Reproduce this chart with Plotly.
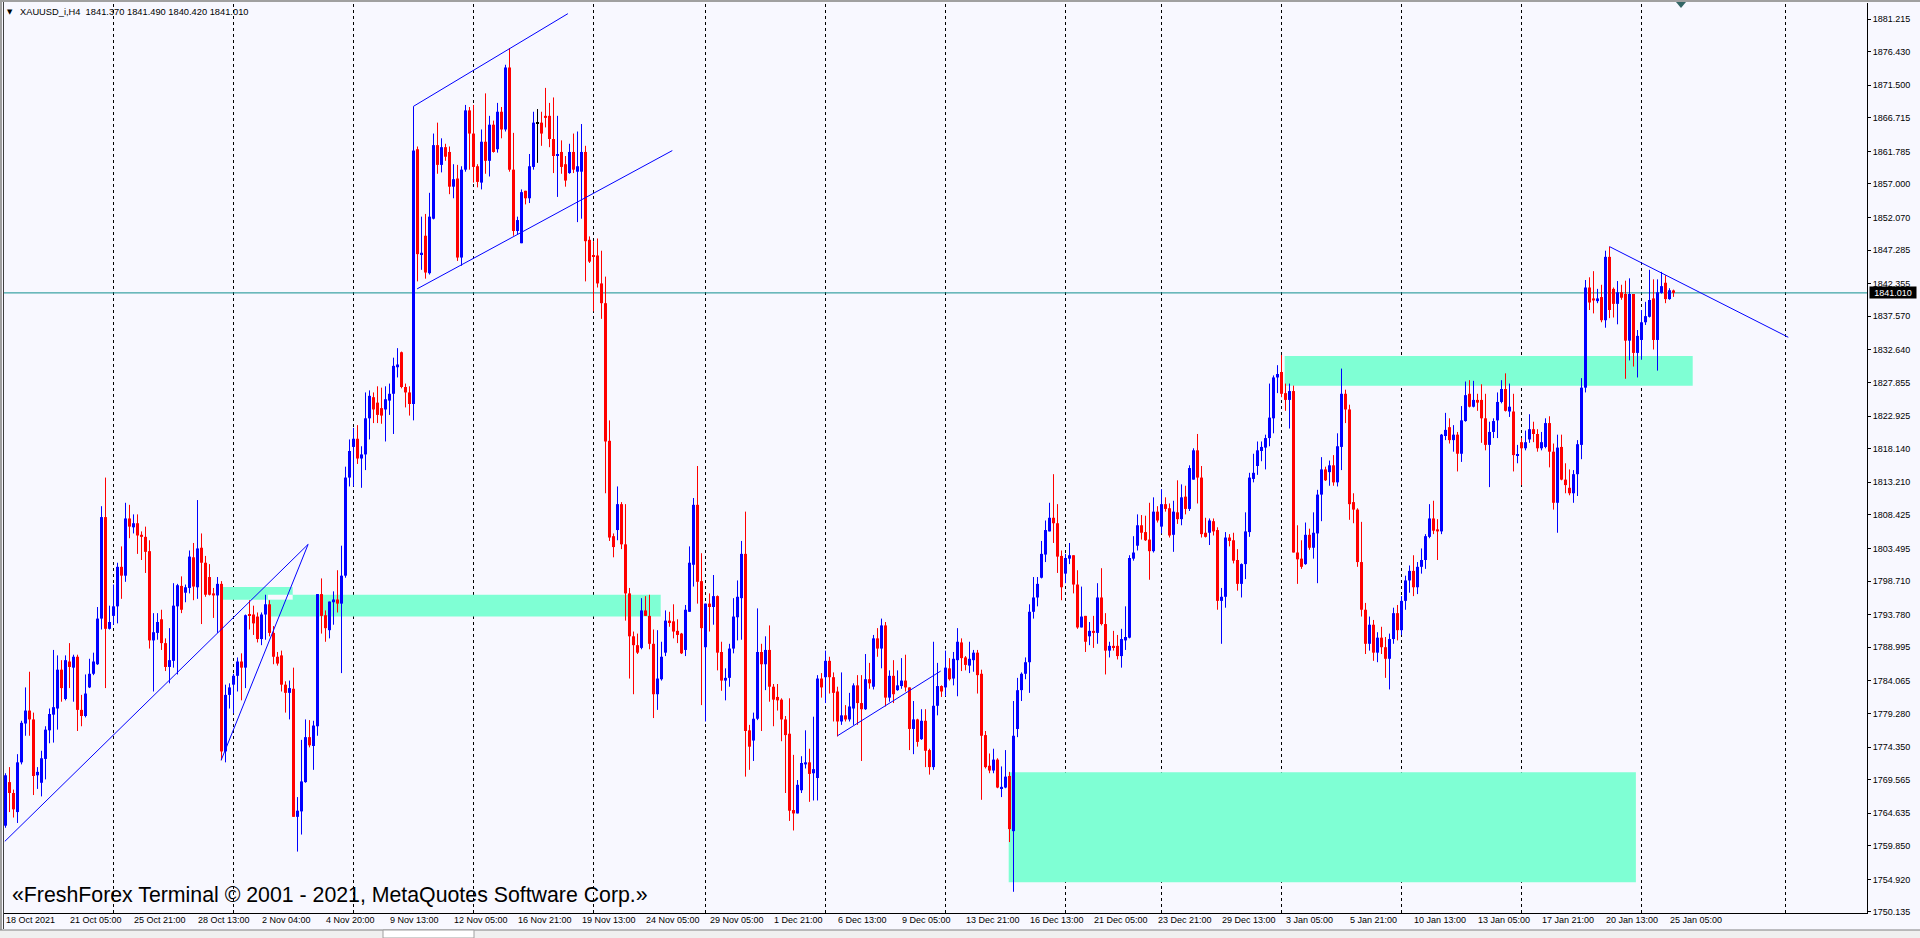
import plotly.graph_objects as go

# ---------------- data (H4 candles, XAUUSD) ----------------
opens = [
    1762.8, 1769.2, 1767.6, 1764.8, 1772.1, 1777.8, 1779.7, 1778.4, 1770.2, 1769.1,
    1772.6, 1776.8, 1779.1, 1780.0, 1785.7, 1781.4, 1786.9, 1786.0, 1787.6, 1779.8,
    1778.9, 1783.1, 1785.1, 1786.5, 1793.2, 1808.1, 1791.7, 1793.6, 1795.0, 1800.8,
    1799.5, 1807.9, 1806.6, 1807.2, 1805.5, 1805.2, 1803.1, 1790.0, 1791.1, 1793.1,
    1789.6, 1786.1, 1787.0, 1795.0, 1798.0, 1797.0, 1797.7, 1802.2, 1797.8, 1803.6,
    1801.4, 1799.3, 1796.9, 1796.6, 1798.3, 1773.7, 1782.0, 1783.5, 1784.8, 1786.9,
    1786.0, 1793.8, 1793.8, 1793.5, 1790.2, 1793.8, 1795.3, 1791.1, 1787.6, 1787.8,
    1783.5, 1782.3, 1782.9, 1764.1, 1764.9, 1769.2, 1775.8, 1774.5, 1777.4, 1796.8,
    1793.7, 1791.5, 1795.6, 1796.0, 1795.4, 1799.5, 1813.9, 1818.4, 1819.6, 1816.7,
    1817.3, 1822.6, 1825.7, 1824.9, 1824.1, 1823.9, 1825.2, 1826.2, 1830.1, 1832.3,
    1827.2, 1826.4, 1824.7, 1862.1, 1846.7, 1849.4, 1843.9, 1851.9, 1862.7, 1859.8,
    1862.4, 1861.7, 1856.6, 1857.8, 1846.2, 1859.1, 1867.8, 1864.4, 1859.6, 1857.2,
    1863.2, 1860.4, 1865.7, 1862.1, 1867.6, 1865.0, 1874.1, 1859.1, 1850.1, 1848.3,
    1856.0, 1854.9, 1859.5, 1865.9, 1866.0, 1867.0, 1867.0, 1863.6, 1861.1, 1861.7,
    1859.9, 1858.6, 1861.7, 1858.8, 1858.8, 1861.7, 1848.8, 1846.5, 1846.5, 1842.4,
    1839.5, 1819.3, 1805.3, 1806.2, 1810.0, 1804.1, 1796.9, 1790.6, 1789.3, 1788.9,
    1794.4, 1793.6, 1789.5, 1782.1, 1784.3, 1788.2, 1792.9, 1792.8, 1791.4, 1791.0,
    1788.6, 1794.2, 1801.1, 1809.9, 1798.7, 1789.0, 1795.4, 1794.9, 1796.5, 1788.3,
    1784.1, 1784.5, 1788.8, 1793.4, 1796.2, 1802.7, 1776.8, 1775.3, 1778.5, 1788.3,
    1786.5, 1788.6, 1783.2, 1781.7, 1781.3, 1778.4, 1776.3, 1765.1, 1764.6, 1768.0,
    1771.8, 1772.1, 1770.5, 1769.8, 1784.4, 1784.6, 1787.0, 1784.6, 1782.5, 1778.1,
    1779.0, 1778.4, 1780.0, 1783.4, 1780.8, 1779.9, 1784.3, 1783.2, 1790.3, 1788.8,
    1792.2, 1781.6, 1784.8, 1782.7, 1783.3, 1784.1, 1783.1, 1777.0, 1778.4, 1775.5,
    1778.2, 1773.9, 1771.4, 1780.4, 1783.3, 1783.1, 1785.9, 1784.4, 1787.1, 1789.7,
    1787.5, 1786.3, 1787.1, 1788.2, 1785.1, 1776.1, 1771.6, 1770.9, 1772.5, 1768.3,
    1768.4, 1770.1, 1762.0, 1777.0, 1782.7, 1785.1, 1786.8, 1794.2, 1796.3, 1799.2,
    1802.6, 1806.0, 1808.0, 1807.2, 1802.4, 1799.8, 1802.0, 1802.5, 1798.2, 1791.9,
    1793.6, 1790.6, 1791.4, 1791.1, 1796.3, 1792.4, 1788.5, 1789.2, 1789.2, 1787.7,
    1790.0, 1790.4, 1802.0, 1803.9, 1806.9, 1805.9, 1804.8, 1803.1, 1808.9, 1806.7,
    1810.0, 1809.4, 1805.5, 1808.8, 1807.8, 1811.1, 1809.3, 1813.6, 1817.9, 1813.9,
    1805.8, 1805.8, 1807.5, 1806.2, 1795.8, 1796.4, 1805.1, 1804.7, 1801.8, 1798.3,
    1801.2, 1805.9, 1813.7, 1815.6, 1817.8, 1818.3, 1819.7, 1822.6, 1828.6, 1829.4,
    1826.3, 1825.3, 1826.6, 1802.9, 1802.0, 1801.2, 1805.5, 1803.6, 1805.7, 1811.4,
    1815.1, 1814.7, 1815.7, 1813.2, 1818.4, 1826.2, 1823.9, 1810.3, 1809.2, 1801.5,
    1794.5, 1789.5, 1792.3, 1788.2, 1790.4, 1789.0, 1787.3, 1790.2, 1794.0, 1791.5,
    1795.8, 1798.8, 1800.2, 1797.8, 1800.8, 1801.8, 1805.2, 1807.9, 1806.3, 1806.0,
    1820.0, 1821.3, 1819.4, 1820.2, 1817.4, 1822.2, 1826.2, 1824.3, 1825.3, 1825.3,
    1822.6, 1818.7, 1820.6, 1822.3, 1825.0, 1826.9, 1823.6, 1823.6, 1817.2, 1819.1,
    1818.2, 1819.5, 1821.0, 1820.3, 1818.2, 1818.4, 1821.9, 1817.7, 1810.2, 1818.4,
    1813.6, 1812.4, 1811.6, 1814.4, 1818.7, 1827.1, 1841.8, 1840.2, 1839.8, 1840.4,
    1837.0, 1846.3, 1841.6, 1839.4, 1841.1, 1840.85, 1834.0, 1840.85, 1832.2, 1834.1,
    1836.7, 1837.5, 1840.2, 1834.1, 1841.0, 1842.5, 1840.1, 1841.37,
]
highs = [
    1770.5, 1771.4, 1768.1, 1773.3, 1778.2, 1783.1, 1785.4, 1779.4, 1771.4, 1773.8,
    1777.4, 1780.0, 1788.6, 1787.8, 1787.1, 1787.8, 1789.6, 1787.9, 1787.9, 1782.0,
    1785.0, 1787.3, 1788.2, 1794.9, 1809.7, 1813.9, 1795.1, 1798.2, 1801.4, 1803.8,
    1810.2, 1809.9, 1808.5, 1808.5, 1806.0, 1806.7, 1804.7, 1794.0, 1794.0, 1794.5,
    1790.3, 1791.8, 1798.4, 1798.3, 1799.4, 1798.2, 1803.2, 1804.3, 1810.6, 1805.7,
    1802.4, 1801.2, 1797.7, 1799.3, 1798.7, 1783.5, 1783.7, 1785.1, 1787.5, 1788.1,
    1793.8, 1795.9, 1795.1, 1794.1, 1794.1, 1796.7, 1795.9, 1792.1, 1788.3, 1788.5,
    1784.0, 1784.1, 1786.0, 1767.0, 1775.4, 1778.4, 1778.3, 1778.2, 1796.8, 1799.1,
    1794.4, 1795.7, 1797.2, 1800.3, 1803.9, 1815.5, 1819.5, 1821.2, 1821.6, 1818.5,
    1826.4, 1826.7, 1826.4, 1827.3, 1827.1, 1827.3, 1827.7, 1831.5, 1832.9, 1832.4,
    1827.7, 1827.3, 1868.4, 1862.5, 1852.2, 1852.6, 1855.7, 1864.4, 1866.0, 1863.7,
    1862.9, 1862.5, 1859.9, 1859.8, 1859.6, 1868.6, 1868.3, 1868.6, 1859.9, 1865.0,
    1870.3, 1867.0, 1866.3, 1868.9, 1868.3, 1874.5, 1876.95, 1864.5, 1852.2, 1856.2,
    1856.0, 1861.4, 1867.6, 1868.0, 1867.6, 1871.1, 1868.9, 1869.7, 1867.0, 1863.4,
    1861.1, 1862.9, 1864.4, 1864.7, 1865.8, 1862.6, 1849.3, 1848.6, 1849.0, 1847.2,
    1843.4, 1822.3, 1805.7, 1812.6, 1810.3, 1810.0, 1797.7, 1791.3, 1791.0, 1796.2,
    1796.5, 1796.7, 1791.6, 1791.5, 1789.8, 1794.4, 1794.2, 1795.3, 1793.1, 1791.1,
    1795.2, 1803.8, 1810.9, 1815.6, 1802.8, 1795.4, 1796.9, 1799.6, 1796.6, 1789.8,
    1785.9, 1789.5, 1796.2, 1798.8, 1804.6, 1808.9, 1777.6, 1779.4, 1794.7, 1789.5,
    1790.6, 1792.2, 1783.6, 1783.6, 1781.5, 1778.9, 1781.5, 1773.2, 1769.5, 1773.0,
    1776.8, 1774.1, 1778.8, 1784.9, 1785.2, 1788.5, 1787.6, 1785.3, 1783.2, 1785.3,
    1780.5, 1782.3, 1783.7, 1784.9, 1784.9, 1788.0, 1786.7, 1790.8, 1791.8, 1793.2,
    1792.7, 1785.6, 1787.1, 1785.6, 1787.4, 1787.9, 1783.1, 1781.1, 1778.5, 1779.9,
    1779.9, 1774.1, 1789.8, 1786.7, 1783.4, 1788.5, 1787.4, 1788.3, 1791.8, 1790.3,
    1787.7, 1789.8, 1788.6, 1788.6, 1785.7, 1776.7, 1773.4, 1774.1, 1772.7, 1771.5,
    1773.9, 1770.7, 1781.1, 1784.5, 1785.3, 1787.5, 1795.3, 1799.3, 1799.3, 1804.6,
    1807.6, 1810.2, 1814.4, 1810.0, 1803.2, 1802.7, 1804.3, 1802.5, 1800.3, 1797.9,
    1793.6, 1792.7, 1793.6, 1798.4, 1800.6, 1794.0, 1789.8, 1791.4, 1790.8, 1791.7,
    1795.0, 1802.5, 1805.3, 1808.5, 1808.4, 1808.3, 1810.2, 1811.0, 1809.7, 1812.2,
    1811.0, 1810.1, 1810.5, 1813.5, 1812.9, 1812.7, 1815.7, 1818.2, 1820.3, 1815.6,
    1808.0, 1807.9, 1807.9, 1806.6, 1797.7, 1805.9, 1805.6, 1805.8, 1803.4, 1801.3,
    1808.8, 1814.6, 1817.4, 1819.2, 1819.2, 1820.2, 1827.7, 1828.9, 1830.4, 1831.9,
    1827.7, 1827.7, 1827.4, 1806.9, 1804.7, 1807.3, 1806.4, 1808.8, 1812.1, 1816.9,
    1815.5, 1816.4, 1817.2, 1820.4, 1829.9, 1826.8, 1824.6, 1811.6, 1809.4, 1807.4,
    1795.5, 1793.5, 1793.0, 1791.2, 1792.0, 1790.5, 1791.0, 1794.8, 1795.2, 1796.5,
    1799.5, 1801.0, 1802.5, 1801.5, 1803.5, 1805.6, 1810.0, 1810.5, 1807.8, 1820.3,
    1823.4, 1822.6, 1821.6, 1820.6, 1824.4, 1828.0, 1828.2, 1828.1, 1826.2, 1827.6,
    1826.2, 1822.1, 1822.6, 1826.4, 1828.2, 1829.2, 1827.7, 1826.2, 1818.7, 1819.7,
    1820.8, 1823.2, 1822.1, 1821.0, 1820.6, 1822.6, 1822.9, 1818.9, 1820.2, 1820.2,
    1816.0, 1815.1, 1815.0, 1819.4, 1828.5, 1842.9, 1843.3, 1844.2, 1841.6, 1842.2,
    1847.2, 1847.8, 1841.8, 1842.75, 1842.2, 1842.8, 1843.15, 1840.85, 1835.56, 1838.5,
    1839.7, 1844.4, 1843.0, 1843.0, 1844.1, 1843.6, 1841.7, 1841.49,
]
lows = [
    1762.5, 1764.8, 1764.0, 1763.2, 1771.8, 1776.0, 1776.0, 1767.3, 1768.2, 1767.1,
    1769.6, 1774.9, 1775.0, 1776.9, 1781.0, 1781.2, 1783.0, 1781.0, 1776.7, 1777.4,
    1778.7, 1783.0, 1784.9, 1786.4, 1791.6, 1783.0, 1791.6, 1792.3, 1792.5, 1796.1,
    1798.6, 1805.0, 1805.7, 1802.7, 1801.8, 1799.9, 1788.8, 1782.5, 1790.1, 1788.6,
    1785.5, 1783.7, 1786.0, 1785.0, 1794.0, 1795.6, 1796.9, 1795.9, 1796.1, 1792.4,
    1796.4, 1796.6, 1793.3, 1791.1, 1772.4, 1772.1, 1780.0, 1779.3, 1782.5, 1781.2,
    1783.0, 1791.6, 1790.8, 1789.7, 1789.3, 1790.1, 1790.6, 1786.5, 1786.3, 1782.5,
    1779.4, 1778.4, 1764.1, 1759.0, 1761.5, 1769.1, 1774.3, 1771.0, 1776.0, 1791.0,
    1789.8, 1790.3, 1792.3, 1794.1, 1785.2, 1799.2, 1812.6, 1812.6, 1815.9, 1812.4,
    1815.0, 1819.5, 1821.9, 1821.9, 1821.8, 1819.2, 1823.1, 1820.3, 1828.6, 1827.0,
    1824.2, 1823.0, 1822.3, 1842.7, 1844.4, 1843.1, 1843.7, 1851.8, 1858.5, 1858.7,
    1860.4, 1855.5, 1854.9, 1845.7, 1845.0, 1858.8, 1859.1, 1857.2, 1856.5, 1856.2,
    1858.5, 1858.1, 1861.6, 1861.6, 1863.7, 1864.7, 1858.8, 1849.4, 1849.6, 1848.3,
    1854.0, 1854.2, 1859.1, 1860.1, 1862.6, 1865.3, 1862.4, 1858.6, 1855.1, 1858.5,
    1856.6, 1858.5, 1858.6, 1851.4, 1851.9, 1842.7, 1845.4, 1838.3, 1841.8, 1837.2,
    1811.6, 1804.6, 1802.2, 1804.7, 1803.4, 1792.9, 1784.4, 1782.1, 1788.0, 1788.7,
    1793.6, 1788.7, 1778.6, 1779.8, 1784.1, 1787.7, 1792.0, 1790.3, 1789.6, 1788.0,
    1787.7, 1794.2, 1797.9, 1795.4, 1780.5, 1778.1, 1791.3, 1792.3, 1785.6, 1782.6,
    1781.2, 1783.2, 1788.1, 1790.0, 1790.1, 1770.0, 1771.0, 1772.3, 1778.3, 1776.7,
    1782.7, 1781.0, 1777.4, 1779.7, 1775.2, 1767.6, 1763.5, 1762.1, 1764.6, 1767.6,
    1771.2, 1766.3, 1766.5, 1766.5, 1781.6, 1780.8, 1782.2, 1778.1, 1775.9, 1777.6,
    1778.1, 1778.1, 1777.6, 1777.6, 1772.3, 1779.8, 1782.9, 1782.8, 1787.6, 1785.9,
    1780.3, 1781.0, 1780.8, 1782.6, 1782.9, 1782.5, 1773.9, 1773.3, 1774.4, 1775.4,
    1771.4, 1770.3, 1771.0, 1779.0, 1781.7, 1781.8, 1784.1, 1783.4, 1781.8, 1785.5,
    1785.6, 1785.2, 1785.4, 1782.2, 1766.6, 1771.2, 1770.5, 1770.5, 1768.3, 1767.0,
    1768.3, 1760.4, 1753.1, 1775.8, 1781.1, 1784.3, 1782.3, 1793.2, 1795.0, 1799.1,
    1801.5, 1806.0, 1804.3, 1799.9, 1795.9, 1798.4, 1801.2, 1796.9, 1791.7, 1791.9,
    1788.3, 1789.3, 1788.9, 1789.5, 1792.2, 1785.0, 1787.5, 1788.5, 1787.2, 1786.0,
    1788.6, 1790.3, 1801.7, 1803.2, 1804.8, 1804.6, 1798.9, 1802.9, 1807.3, 1805.7,
    1808.9, 1805.1, 1803.0, 1807.1, 1806.9, 1808.5, 1809.0, 1813.6, 1810.1, 1805.1,
    1805.1, 1804.0, 1805.4, 1794.5, 1789.5, 1794.8, 1803.8, 1801.3, 1797.3, 1796.3,
    1799.0, 1805.2, 1813.2, 1814.3, 1816.3, 1815.1, 1818.5, 1820.4, 1826.3, 1825.7,
    1823.7, 1821.1, 1802.9, 1798.3, 1800.5, 1801.1, 1803.3, 1802.0, 1798.4, 1807.5,
    1813.4, 1812.7, 1812.7, 1812.6, 1815.0, 1821.9, 1807.7, 1807.2, 1800.8, 1793.5,
    1788.0, 1788.5, 1787.0, 1786.8, 1788.0, 1784.5, 1782.8, 1789.5, 1790.0, 1790.8,
    1794.5, 1797.0, 1796.5, 1796.8, 1799.8, 1800.5, 1805.0, 1805.6, 1801.8, 1805.6,
    1819.4, 1818.9, 1817.7, 1814.8, 1816.2, 1822.1, 1824.2, 1824.2, 1823.7, 1819.0,
    1817.9, 1812.5, 1819.7, 1819.7, 1824.8, 1823.6, 1822.8, 1814.8, 1816.0, 1812.8,
    1817.9, 1819.0, 1819.1, 1817.7, 1817.9, 1818.2, 1815.4, 1809.2, 1805.8, 1813.5,
    1811.6, 1811.3, 1810.2, 1811.2, 1816.6, 1826.4, 1838.5, 1838.0, 1839.5, 1836.7,
    1835.9, 1837.3, 1837.4, 1836.4, 1840.0, 1828.4, 1831.1, 1830.2, 1828.6, 1831.2,
    1836.3, 1837.4, 1832.7, 1829.6, 1840.9, 1839.5, 1840.0, 1840.42,
]
closes = [
    1770.2, 1767.6, 1765.2, 1772.1, 1777.9, 1779.7, 1778.4, 1770.1, 1770.7, 1772.7,
    1776.9, 1779.2, 1780.2, 1785.7, 1783.0, 1787.1, 1786.1, 1787.6, 1779.8, 1778.9,
    1782.2, 1785.1, 1786.9, 1793.2, 1808.1, 1791.7, 1792.7, 1795.0, 1800.8, 1799.5,
    1807.9, 1806.7, 1807.2, 1805.4, 1805.2, 1803.0, 1790.0, 1791.2, 1792.7, 1789.6,
    1786.1, 1787.1, 1795.1, 1798.1, 1794.5, 1797.8, 1802.3, 1797.9, 1803.5, 1801.4,
    1796.7, 1796.7, 1796.6, 1798.3, 1773.7, 1782.0, 1783.1, 1784.8, 1786.9, 1786.0,
    1793.7, 1793.6, 1792.5, 1790.2, 1793.8, 1795.3, 1791.1, 1787.6, 1786.6, 1783.5,
    1782.3, 1783.0, 1764.1, 1765.0, 1769.3, 1775.8, 1774.6, 1777.5, 1796.8, 1793.6,
    1791.8, 1795.7, 1796.0, 1795.4, 1799.5, 1813.9, 1817.8, 1819.6, 1816.7, 1817.3,
    1822.6, 1825.9, 1823.9, 1823.1, 1823.0, 1825.4, 1826.2, 1830.3, 1830.5, 1827.2,
    1826.4, 1824.7, 1861.9, 1846.7, 1846.9, 1844.0, 1852.2, 1862.7, 1859.8, 1862.4,
    1861.0, 1856.6, 1857.7, 1846.2, 1859.1, 1867.8, 1864.4, 1859.5, 1857.3, 1863.2,
    1860.4, 1865.7, 1861.7, 1867.6, 1865.0, 1874.1, 1859.1, 1850.1, 1851.7, 1855.8,
    1854.9, 1859.6, 1866.0, 1865.9, 1864.4, 1866.7, 1863.6, 1861.1, 1861.4, 1859.5,
    1857.5, 1861.7, 1859.1, 1859.6, 1861.7, 1848.6, 1845.6, 1846.3, 1842.4, 1839.5,
    1819.2, 1805.1, 1803.7, 1810.0, 1804.1, 1796.9, 1790.6, 1789.3, 1788.2, 1794.4,
    1793.6, 1789.5, 1782.1, 1784.4, 1787.6, 1792.9, 1792.7, 1791.3, 1790.8, 1788.1,
    1794.5, 1801.4, 1809.9, 1798.6, 1791.8, 1795.4, 1794.9, 1796.5, 1788.2, 1784.1,
    1784.5, 1788.8, 1793.5, 1796.4, 1802.7, 1776.7, 1774.4, 1778.5, 1788.3, 1786.5,
    1788.6, 1783.2, 1781.3, 1781.2, 1778.4, 1776.1, 1765.0, 1764.6, 1768.8, 1772.0,
    1772.1, 1770.4, 1771.1, 1784.4, 1783.1, 1787.0, 1784.6, 1782.3, 1778.1, 1779.0,
    1778.4, 1780.3, 1783.4, 1780.8, 1779.9, 1784.3, 1783.7, 1790.3, 1788.8, 1792.2,
    1781.6, 1784.8, 1782.1, 1783.4, 1784.1, 1783.1, 1777.0, 1778.4, 1775.1, 1778.2,
    1773.8, 1771.4, 1780.4, 1783.3, 1782.5, 1786.0, 1784.3, 1787.3, 1789.8, 1787.4,
    1786.4, 1787.3, 1788.2, 1784.9, 1776.0, 1771.4, 1770.9, 1772.5, 1768.4, 1768.5,
    1770.0, 1762.3, 1776.0, 1782.7, 1785.1, 1786.8, 1794.2, 1796.3, 1798.3, 1802.7,
    1806.2, 1808.0, 1807.2, 1802.3, 1797.8, 1802.1, 1802.5, 1798.2, 1791.9, 1793.5,
    1789.8, 1791.4, 1791.1, 1796.3, 1792.4, 1788.5, 1789.2, 1789.0, 1787.7, 1790.2,
    1790.5, 1802.1, 1802.9, 1806.9, 1805.8, 1804.7, 1803.1, 1808.9, 1807.6, 1810.0,
    1809.3, 1805.4, 1808.9, 1807.8, 1811.0, 1809.3, 1815.3, 1817.9, 1813.9, 1805.6,
    1805.2, 1807.6, 1806.0, 1795.8, 1796.4, 1805.1, 1804.6, 1801.7, 1798.3, 1801.2,
    1806.0, 1813.9, 1814.6, 1817.9, 1818.4, 1819.7, 1822.7, 1828.6, 1829.1, 1826.2,
    1825.3, 1826.6, 1802.9, 1801.9, 1800.8, 1805.5, 1803.6, 1805.8, 1811.4, 1815.1,
    1813.5, 1815.7, 1813.2, 1818.5, 1826.2, 1823.9, 1810.0, 1809.2, 1801.5, 1794.5,
    1789.5, 1792.3, 1788.2, 1790.4, 1789.0, 1787.3, 1790.2, 1794.0, 1791.5, 1795.8,
    1798.8, 1800.2, 1797.8, 1800.8, 1801.8, 1805.3, 1807.9, 1806.1, 1806.0, 1820.2,
    1820.9, 1819.4, 1820.2, 1817.4, 1822.3, 1826.0, 1824.3, 1825.3, 1824.9, 1822.6,
    1818.7, 1820.6, 1822.2, 1825.0, 1826.9, 1823.7, 1824.3, 1817.2, 1817.35, 1818.2,
    1819.1, 1821.0, 1820.3, 1818.2, 1819.1, 1821.9, 1817.7, 1810.2, 1818.3, 1813.6,
    1812.8, 1811.6, 1814.4, 1818.8, 1827.1, 1841.8, 1839.6, 1839.9, 1840.2, 1837.0,
    1846.3, 1838.5, 1839.4, 1841.1, 1840.3, 1834.0, 1840.85, 1832.2, 1834.7, 1836.7,
    1837.6, 1839.97, 1834.1, 1841.1, 1842.0, 1840.1, 1841.4, 1841.01,
]
assert len(opens) == len(highs) == len(lows) == len(closes), (len(opens), len(highs), len(lows), len(closes))

# time-axis labels (every 16 bars)
x_label_bars = [0, 16, 32, 48, 64, 80, 96, 112, 128, 144, 160, 176, 192, 208,
                224, 240, 256, 272, 288, 304, 320, 336, 352, 368, 384, 400, 416]
x_labels = ["18 Oct 2021", "21 Oct 05:00", "25 Oct 21:00", "28 Oct 13:00", "2 Nov 04:00",
            "4 Nov 20:00", "9 Nov 13:00", "12 Nov 05:00", "16 Nov 21:00", "19 Nov 13:00",
            "24 Nov 05:00", "29 Nov 05:00", "1 Dec 21:00", "6 Dec 13:00", "9 Dec 05:00",
            "13 Dec 21:00", "16 Dec 13:00", "21 Dec 05:00", "23 Dec 21:00", "29 Dec 13:00",
            "3 Jan 05:00", "5 Jan 21:00", "10 Jan 13:00", "13 Jan 05:00", "17 Jan 21:00",
            "20 Jan 13:00", "25 Jan 05:00"]
# price scale labels
y_ticks = [1881.215, 1876.430, 1871.500, 1866.715, 1861.785, 1857.000, 1852.070, 1847.285,
           1842.355, 1837.570, 1832.640, 1827.855, 1822.925, 1818.140, 1813.210, 1808.425,
           1803.495, 1798.710, 1793.780, 1788.995, 1784.065, 1779.280, 1774.350, 1769.565,
           1764.635, 1759.850, 1754.920, 1750.135]
y_tick_text = ["%.3f" % v for v in y_ticks]
# weekly separators (bar positions)
grid_bars = [27, 57, 87, 117, 147, 175, 205, 235, 265, 289, 319, 349, 379, 409, 445]
# zones (rectangles)
zone_x0 = [54.0, 65.6, 250.8, 319.8]
zone_x1 = [71.8, 163.8, 407.6, 421.8]
zone_top = [1797.85, 1796.7, 1770.65, 1831.74]
zone_bottom = [1795.98, 1793.5, 1754.5, 1827.38]
# trend lines
trend_x0 = [-0.17, 53.9, 102.0, 102.9, 208.0, 401.0]
trend_p0 = [1760.5, 1772.4, 1868.4, 1841.6, 1776.0, 1847.8]
trend_x1 = [75.66, 75.66, 140.6, 166.7, 233.8, 445.7]
trend_p1 = [1804.1, 1804.1, 1882.0, 1861.9, 1785.5, 1834.5]
bid_price = 1841.010
title_text = "XAUUSD_i,H4\u00a0\u00a01841.370 1841.490 1840.420 1841.010"
watermark = "\u00abFreshForex Terminal \u00a9 2001 - 2021, MetaQuotes Software Corp.\u00bb"

# ---------------- geometry / style ----------------
W, H = 1920, 938
ML, MR, MT, MB = 4, 53, 3, 25
PW, PH = W - ML - MR, H - MT - MB
x_range = [-0.375, 465.375]
y_range = [1749.985, 1883.564]
px_price = (y_range[1] - y_range[0]) / PH
BG = "#F8F8FF"
BULL, BEAR, DOJI = "#0000FF", "#FF0000", "#000000"
FONT = "Liberation Sans, Arial, sans-serif"


def pxx(p):
    return (p - ML) / PW


def pxy(p):
    return 1 - (p - MT) / PH


fig = go.Figure()

groups = {BULL: [], BEAR: [], DOJI: []}
for i, (o, h, l, c) in enumerate(zip(opens, highs, lows, closes)):
    col = BULL if c > o else (BEAR if c < o else DOJI)
    groups[col].append(i)

for col, idx in groups.items():
    if not idx:
        continue
    wx, wy = [], []
    for i in idx:
        wx += [i, i, None]
        wy += [lows[i], highs[i], None]
    fig.add_trace(go.Scatter(x=wx, y=wy, mode="lines", line=dict(color=col, width=1),
                             hoverinfo="skip", showlegend=False))
    base = [min(opens[i], closes[i]) for i in idx]
    hgt = [max(abs(closes[i] - opens[i]), px_price) for i in idx]
    fig.add_trace(go.Bar(x=idx, y=hgt, base=base, width=0.75,
                         marker=dict(color=col, line=dict(width=0)),
                         hoverinfo="skip", showlegend=False))

shapes = []
for x0, x1, t, b in zip(zone_x0, zone_x1, zone_top, zone_bottom):
    shapes.append(dict(type="rect", xref="x", yref="y", x0=x0, x1=x1, y0=b, y1=t,
                       fillcolor="#7FFFD4", line=dict(width=0), layer="below"))
# overlap of the first two zones shows as background (XOR look)
ox0, ox1 = max(zone_x0[0], zone_x0[1]), min(zone_x1[0], zone_x1[1])
oy0, oy1 = max(zone_bottom[0], zone_bottom[1]), min(zone_top[0], zone_top[1])
if ox1 > ox0 and oy1 > oy0:
    shapes.append(dict(type="rect", xref="x", yref="y", x0=ox0, x1=ox1, y0=oy0, y1=oy1,
                       fillcolor=BG, line=dict(width=0), layer="below"))
for gb in grid_bars:
    shapes.append(dict(type="line", xref="x", yref="paper", x0=gb, x1=gb, y0=0, y1=1,
                       line=dict(color="#000000", width=1, dash="3px,3px"), layer="below"))
shapes.append(dict(type="line", xref="paper", yref="y", x0=0, x1=1, y0=bid_price, y1=bid_price,
                   line=dict(color="#109090", width=1), layer="below"))
for x0, p0, x1, p1 in zip(trend_x0, trend_p0, trend_x1, trend_p1):
    shapes.append(dict(type="line", xref="x", yref="y", x0=x0, y0=p0, x1=x1, y1=p1,
                       line=dict(color="#0000FF", width=1), layer="above"))
# window frame
shapes.append(dict(type="line", xref="paper", yref="paper", x0=pxx(1), x1=pxx(1), y0=pxy(0), y1=pxy(H),
                   line=dict(color="#A0A0A0", width=2)))
shapes.append(dict(type="line", xref="paper", yref="paper", x0=pxx(3.5), x1=pxx(3.5), y0=pxy(0), y1=pxy(929),
                   line=dict(color="#404040", width=1)))
shapes.append(dict(type="line", xref="paper", yref="paper", x0=pxx(0), x1=pxx(W), y0=pxy(1), y1=pxy(1),
                   line=dict(color="#A0A0A0", width=2)))
shapes.append(dict(type="rect", xref="paper", yref="paper", x0=pxx(0), x1=pxx(W), y0=pxy(930), y1=pxy(H),
                   fillcolor="#F0F0F0", line=dict(width=0)))
shapes.append(dict(type="line", xref="paper", yref="paper", x0=pxx(0), x1=pxx(W), y0=pxy(930), y1=pxy(930),
                   line=dict(color="#808080", width=1)))
shapes.append(dict(type="rect", xref="paper", yref="paper", x0=pxx(383), x1=pxx(474), y0=pxy(930), y1=pxy(H),
                   fillcolor="#FFFFFF", line=dict(color="#A0A0A0", width=1)))
# chart-shift marker
shapes.append(dict(type="path", xref="paper", yref="paper",
                   path="M %f,%f L %f,%f L %f,%f Z" % (pxx(1676), pxy(2), pxx(1686), pxy(2), pxx(1681), pxy(8)),
                   fillcolor="#336666", line=dict(width=0)))

annotations = []
for b, t in zip(x_label_bars, x_labels):
    annotations.append(dict(x=b, xref="x", y=pxy(920), yref="paper", text=t, showarrow=False,
                            xanchor="left", yanchor="middle", xshift=-2,
                            font=dict(family=FONT, size=9, color="#000000")))
annotations.append(dict(x=pxx(5), y=pxy(12), xref="paper", yref="paper", text="\u25bc",
                        showarrow=False, xanchor="left", yanchor="middle",
                        font=dict(family="DejaVu Sans", size=7, color="#000000")))
annotations.append(dict(x=pxx(18), y=pxy(12), xref="paper", yref="paper", text=title_text,
                        showarrow=False, xanchor="left", yanchor="middle",
                        font=dict(family=FONT, size=9.3, color="#000000")))
annotations.append(dict(x=pxx(10), y=pxy(895), xref="paper", yref="paper", text=watermark,
                        showarrow=False, xanchor="left", yanchor="middle",
                        font=dict(family=FONT, size=21.3, color="#000000")))
annotations.append(dict(x=pxx(1869), xref="paper", y=bid_price, yref="y", text="%.3f" % bid_price,
                        showarrow=False, xanchor="left", yanchor="middle", bgcolor="#000000",
                        width=46, height=11, borderpad=0, align="center",
                        font=dict(family=FONT, size=9, color="#FFFFFF")))

fig.update_layout(
    width=W, height=H, autosize=False,
    margin=dict(l=ML, r=MR, t=MT, b=MB, pad=0),
    paper_bgcolor=BG, plot_bgcolor=BG,
    barmode="overlay", showlegend=False,
    shapes=shapes, annotations=annotations,
    xaxis=dict(range=x_range, showgrid=False, zeroline=False, showticklabels=False,
               ticks="", showline=True, linecolor="#000000", linewidth=1, fixedrange=True),
    yaxis=dict(range=y_range, side="right", showgrid=False, zeroline=False,
               tickmode="array", tickvals=y_ticks, ticktext=y_tick_text,
               ticks="outside", ticklen=3, tickcolor="#000000", tickwidth=1,
               showline=True, linecolor="#000000", linewidth=1,
               tickfont=dict(family=FONT, size=9, color="#000000"), fixedrange=True),
)

fig.write_html("out.html", config={"displayModeBar": False},
               post_script="document.body.style.margin='0';document.body.style.overflow='hidden';")
